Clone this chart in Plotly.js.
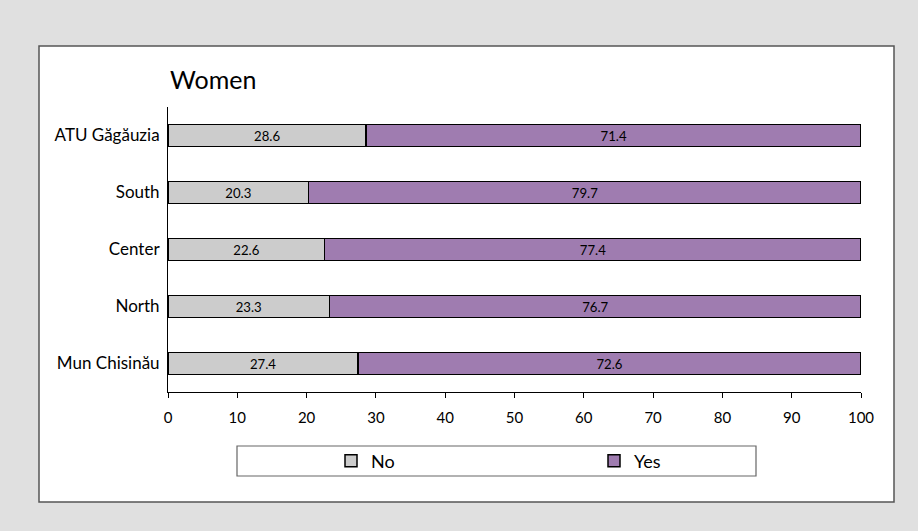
<!DOCTYPE html>
<html>
<head>
<meta charset="utf-8">
<script src="https://cdn.plot.ly/plotly-3.0.1.min.js"></script>
<style>html,body{margin:0;padding:0;background:#e0e0e0;}#chart{width:918px;height:531px;}</style>
</head>
<body>
<div id="chart"></div>
<script>
var regions = ["ATU Găgăuzia", "South", "Center", "North", "Mun Chisinău"];
var noValues = [28.6, 20.3, 22.6, 23.3, 27.4];
var yesValues = [71.4, 79.7, 77.4, 76.7, 72.6];
var seriesNames = ["No", "Yes"];
var xTicks = [0, 10, 20, 30, 40, 50, 60, 70, 80, 90, 100];
var chartTitle = "Women";

var FONT = "Lato, 'Noto Sans', sans-serif";

var traces = [
  {
    type: "bar", orientation: "h", name: seriesNames[0],
    y: regions, x: noValues,
    marker: {color: "#cccccc", line: {color: "#000000", width: 1.5}},
    text: noValues.map(function(v){return v.toFixed(1);}),
    textposition: "inside", insidetextanchor: "middle", textangle: 0,
    textfont: {family: FONT, size: 14, color: "#000000"},
    insidetextfont: {family: FONT, size: 14, color: "#000000"},
    hoverinfo: "x+y+name", legend: "legend"
  },
  {
    type: "bar", orientation: "h", name: seriesNames[1],
    y: regions, x: yesValues,
    marker: {color: "#9f7cb0", line: {color: "#000000", width: 1.5}},
    text: yesValues.map(function(v){return v.toFixed(1);}),
    textposition: "inside", insidetextanchor: "middle", textangle: 0,
    textfont: {family: FONT, size: 14, color: "#000000"},
    insidetextfont: {family: FONT, size: 14, color: "#000000"},
    hoverinfo: "x+y+name", legend: "legend2"
  }
];

var layout = {
  width: 918, height: 531,
  margin: {l: 168, r: 57, t: 107, b: 139},
  paper_bgcolor: "#e0e0e0",
  plot_bgcolor: "rgba(0,0,0,0)",
  barmode: "stack",
  bargap: 0.614,
  font: {family: FONT, color: "#000000"},
  title: {
    text: chartTitle, font: {family: FONT, size: 25, color: "#000000"},
    xref: "paper", x: 0.003, xanchor: "left",
    yref: "container", y: 1 - 80/531, yanchor: "middle"
  },
  xaxis: {
    range: [0, 100], tickvals: xTicks, ticktext: xTicks.map(String),
    showline: true, linecolor: "#000000", linewidth: 1,
    ticks: "outside", ticklen: 5, tickcolor: "#000000", tickwidth: 1,
    ticklabelstandoff: 7,
    showgrid: false, zeroline: false,
    tickfont: {family: FONT, size: 15, color: "#000000"}
  },
  yaxis: {
    type: "category", autorange: "reversed",
    showline: true, linecolor: "#000000", linewidth: 1,
    ticks: "", showgrid: false, zeroline: false,
    ticklabelstandoff: 4,
    tickfont: {family: FONT, size: 17, color: "#000000"}
  },
  shapes: [
    {type: "rect", xref: "paper", yref: "paper", layer: "below",
     x0: (39-168)/693, x1: (894-168)/693, y0: (392-502)/285, y1: (392-46)/285,
     fillcolor: "#ffffff", line: {color: "#555555", width: 1.5}},
    {type: "rect", xref: "paper", yref: "paper", layer: "below",
     x0: (237-168)/693, x1: (756-168)/693, y0: (392-476)/285, y1: (392-446)/285,
     fillcolor: "#ffffff", line: {color: "#666666", width: 1.2}}
  ],
  legend: {
    orientation: "h", x: (331-168)/693, xanchor: "left",
    y: (392-461)/285, yanchor: "middle",
    bgcolor: "rgba(0,0,0,0)", borderwidth: 0,
    font: {family: FONT, size: 18, color: "#000000"}
  },
  legend2: {
    orientation: "h", x: (594-168)/693, xanchor: "left",
    y: (392-461)/285, yanchor: "middle",
    bgcolor: "rgba(0,0,0,0)", borderwidth: 0,
    font: {family: FONT, size: 18, color: "#000000"}
  },
  showlegend: true
};

Plotly.newPlot("chart", traces, layout, {displayModeBar: false, responsive: false});
</script>
</body>
</html>
